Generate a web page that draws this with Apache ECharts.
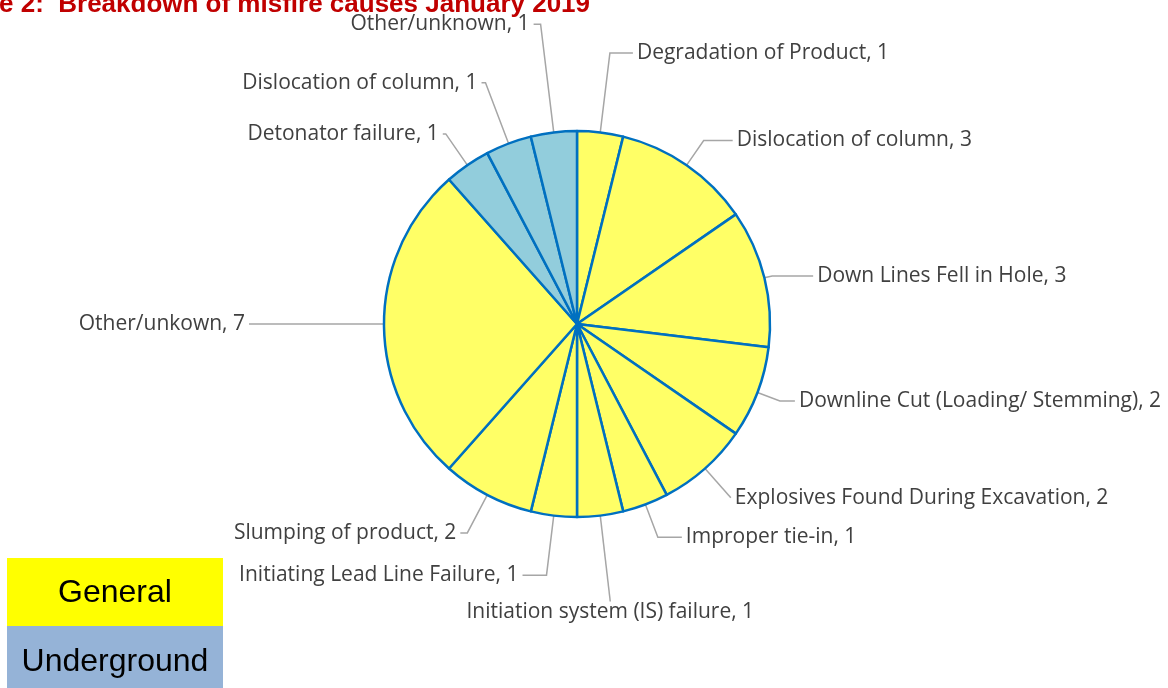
<!DOCTYPE html>
<html>
<head>
<meta charset="utf-8">
<script src="https://cdn.jsdelivr.net/npm/echarts@6/dist/echarts.min.js"></script>
<style>
  html, body { margin: 0; padding: 0; background: #fff; }
  #misfireCauses { width: 1168px; height: 688px; }
</style>
</head>
<body>
<div id="misfireCauses"></div>
<script>
var causes = [
  'Degradation of Product', 'Dislocation of column', 'Down Lines Fell in Hole',
  'Downline Cut (Loading/ Stemming)', 'Explosives Found During Excavation',
  'Improper tie-in', 'Initiation system (IS) failure', 'Initiating Lead Line Failure',
  'Slumping of product', 'Other/unkown', 'Detonator failure',
  'Dislocation of column', 'Other/unknown'
];
var counts = [1, 3, 3, 2, 2, 1, 1, 1, 2, 7, 1, 1, 1];
var groups = ['General', 'General', 'General', 'General', 'General', 'General', 'General',
  'General', 'General', 'General', 'Underground', 'Underground', 'Underground'];

// leader line lengths [radial, horizontal] per slice, to spread labels like the original
var leaderLengths = [
  [80, 23], [30, 29], [8, 41], [24, 15], [39, 0], [35, 24], [83, 0],
  [60, 24], [43, 7], [20, 115], [38, 3], [65, 4], [109, 7]
];

var sliceColors = { General: '#FFFF66', Underground: '#92CDDC' };

var chartDom = document.getElementById('misfireCauses');
var myChart = echarts.init(chartDom);
var option;

var pieData = causes.map(function (name, i) {
  return {
    name: name,
    value: counts[i],
    itemStyle: { color: sliceColors[groups[i]] },
    labelLine: { length: leaderLengths[i][0], length2: leaderLengths[i][1] }
  };
});

option = {
  animation: false,
  title: {
    text: 'Figure 2:  Breakdown of misfire causes January 2019',
    left: -66,
    top: -8,
    padding: 0,
    textStyle: {
      fontFamily: 'Liberation Sans, Arial, sans-serif',
      fontWeight: 'bold',
      fontSize: 26,
      color: '#C00000'
    }
  },
  graphic: [
    {
      type: 'rect',
      shape: { x: 7, y: 558, width: 216, height: 68 },
      style: { fill: '#FFFF00' }
    },
    {
      type: 'text',
      x: 115, y: 593,
      style: {
        text: 'General', fill: '#000', font: '32px "Liberation Sans", Arial, sans-serif',
        align: 'center', verticalAlign: 'middle'
      }
    },
    {
      type: 'rect',
      shape: { x: 7, y: 626, width: 216, height: 62 },
      style: { fill: '#95B3D7' }
    },
    {
      type: 'text',
      x: 115, y: 662,
      style: {
        text: 'Underground', fill: '#000', font: '32px "Liberation Sans", Arial, sans-serif',
        align: 'center', verticalAlign: 'middle'
      }
    }
  ],
  series: [
    {
      type: 'pie',
      center: [577, 324],
      radius: 193,
      startAngle: 90,
      clockwise: true,
      avoidLabelOverlap: false,
      emphasis: { disabled: true },
      itemStyle: { borderColor: '#0070C0', borderWidth: 2.5 },
      label: {
        formatter: '{b}, {c}',
        color: '#404040',
        fontFamily: 'Open Sans',
        fontSize: 21,
        distanceToLabelLine: 4
      },
      labelLine: {
        show: true,
        smooth: false,
        lineStyle: { color: '#A6A6A6', width: 1.5 }
      },
      labelLayout: function (params) {
        // the bottom label sits centred under its leader line
        if (params.dataIndex === 6 && params.labelLinePoints) {
          var p = params.labelLinePoints[1];
          return { x: p[0], y: p[1] + 14, align: 'center', verticalAlign: 'middle' };
        }
      },
      data: pieData
    }
  ]
};

option && myChart.setOption(option);
</script>
</body>
</html>
